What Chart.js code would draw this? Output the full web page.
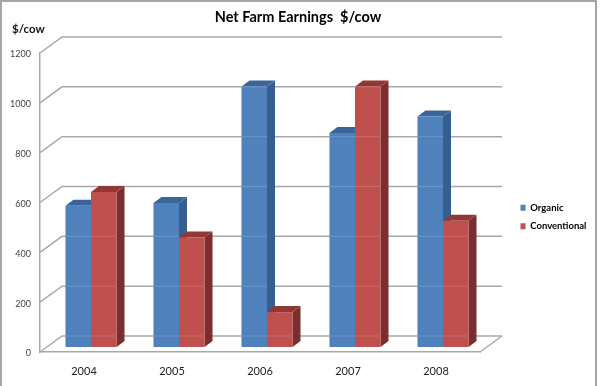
<!DOCTYPE html>
<html>
<head>
<meta charset="utf-8">
<script src="https://cdn.jsdelivr.net/npm/chart.js@4"></script>
<style>
body{margin:0;background:#fff;overflow:hidden}
#frame{position:absolute;left:0;top:0;width:593px;height:400px;border:2px solid #a6a6a6}
canvas{position:absolute;left:0;top:0}
</style>
</head>
<body>
<div id="frame"></div>
<canvas id="farmChart" width="600" height="386"></canvas>
<script>
const years = ["2004","2005","2006","2007","2008"]
const organic = [567,578,1045,859,925]
const conventional = [622,439,140,1045,507]

const depthX = 22, depthY = 16   // back wall offset from the front axes
const barX = 7, barY = 5         // bars sit a little behind the front plane
const barDepthX = 8, barDepthY = 6
const sideColors = ["#365F8F","#7B2E2C"]
const topColors = ["#3A6598","#933735"]

const box3d = {
  id:"box3d",
  afterLayout(chart){
    // legend goes to the right of the plot, title centred on the whole picture
    const l = chart.legend
    const w = l.width, h = l.height
    l.left = 511.5; l.right = 511.5+w
    l.top = 217-h/2; l.bottom = l.top+h
    chart.titleBlock.right = 596
    chart.boxes.forEach(b=>{
      if(b.options.text === "$/cow") b.left = 12
    })
  },
  beforeDatasetsDraw(chart){
    const ctx = chart.ctx, y = chart.scales.y, a = chart.chartArea
    ctx.save()
    ctx.strokeStyle = "#a9a9a9"
    ctx.lineWidth = 1.5
    y.ticks.forEach(t=>{
      const py = y.getPixelForValue(t.value)
      ctx.beginPath()
      ctx.moveTo(a.left,py)
      ctx.lineTo(a.left+depthX,py-depthY)
      ctx.lineTo(a.right+depthX,py-depthY)
      ctx.stroke()
    })
    ctx.beginPath()
    ctx.moveTo(a.right,a.bottom)
    ctx.lineTo(a.right+depthX,a.bottom-depthY)
    ctx.stroke()

    // chart.js paints the last dataset first, so the side and top faces
    // all go down here, organic then conventional, and the fronts go on later
    ctx.translate(barX,-barY)
    chart.data.datasets.forEach((ds,i)=>{
      chart.getDatasetMeta(i).data.forEach(bar=>{
        const hw = bar.width/2
        const l = bar.x-hw, r = bar.x+hw
        ctx.fillStyle = sideColors[i]
        ctx.beginPath()
        ctx.moveTo(r,bar.y)
        ctx.lineTo(r+barDepthX,bar.y-barDepthY)
        ctx.lineTo(r+barDepthX,bar.base-barDepthY)
        ctx.lineTo(r,bar.base)
        ctx.closePath()
        ctx.fill()
        ctx.fillStyle = topColors[i]
        ctx.beginPath()
        ctx.moveTo(l,bar.y)
        ctx.lineTo(l+barDepthX,bar.y-barDepthY)
        ctx.lineTo(r+barDepthX,bar.y-barDepthY)
        ctx.lineTo(r,bar.y)
        ctx.closePath()
        ctx.fill()
      })
    })
    ctx.restore()
  },
  beforeDatasetDraw(chart){
    chart.ctx.save()
    chart.ctx.translate(barX,-barY)
  },
  afterDatasetDraw(chart){
    chart.ctx.restore()
  },
  afterDatasetsDraw(chart){
    // the wall lines show faintly through the bars in the original
    const ctx = chart.ctx, y = chart.scales.y
    ctx.save()
    ctx.strokeStyle = "rgba(255,255,255,0.16)"
    ctx.lineWidth = 1
    chart.data.datasets.forEach((ds,i)=>{
      chart.getDatasetMeta(i).data.forEach(bar=>{
        y.ticks.forEach(t=>{
          const py = y.getPixelForValue(t.value)-depthY
          if(py > bar.y-barY && py < bar.base-barY){
            ctx.beginPath()
            ctx.moveTo(bar.x-bar.width/2+barX,py)
            ctx.lineTo(bar.x+bar.width/2+barX,py)
            ctx.stroke()
          }
        })
      })
    })
    ctx.restore()
  }
}

new Chart(document.getElementById("farmChart"),{
  type:"bar",
  data:{
    labels:years,
    datasets:[
      {label:"Organic",data:organic,backgroundColor:"#4F81BD",clip:false},
      {label:"Conventional",data:conventional,backgroundColor:"#C0504D",clip:false}
    ]
  },
  plugins:[box3d],
  options:{
    responsive:false,
    animation:false,
    layout:{padding:{left:0,right:120,top:0,bottom:0}},
    datasets:{bar:{barPercentage:1,categoryPercentage:0.58}},
    plugins:{
      tooltip:{enabled:false},
      title:{
        display:true,
        text:"Net Farm Earnings  $/cow",
        color:"#000",
        font:{family:"Lato",size:14.5,weight:"bold",lineHeight:1.2},
        padding:{top:8.6,bottom:0}
      },
      subtitle:{
        display:true,
        text:"$/cow",
        align:"start",
        color:"#111",
        font:{family:"Lato",size:11.5,weight:"bold",lineHeight:1.2},
        padding:{top:-4,bottom:17.2}
      },
      legend:{
        position:"chartArea",
        onClick:null,
        labels:{
          boxWidth:5,
          boxHeight:6,
          padding:9,
          color:"#000",
          font:{family:"Lato",size:9.5,weight:"bold"}
        }
      }
    },
    scales:{
      x:{
        afterFit(s){s.height=34},
        grid:{display:false,drawTicks:false},
        border:{color:"#a9a9a9",width:1.5},
        ticks:{color:"#222",font:{family:"Lato",size:11},padding:13}
      },
      y:{
        min:0,
        max:1200,
        afterFit(s){s.width=40},
        grid:{display:false,drawTicks:false},
        border:{color:"#a9a9a9",width:1.5},
        ticks:{stepSize:200,color:"#444",font:{family:"Lato",size:9},padding:9,labelOffset:1.5,callback:v=>String(v)}
      }
    }
  }
})
</script>
</body>
</html>
